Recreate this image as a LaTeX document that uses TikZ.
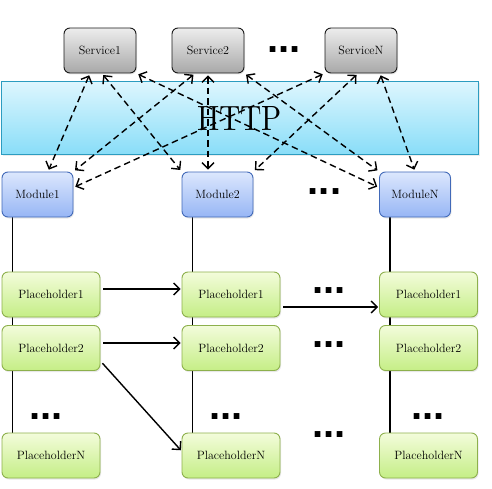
\documentclass[tikz,border=0pt]{standalone}
\usepackage{fontspec}
\newfontfamily\dotsfont{Liberation Sans}
\usetikzlibrary{arrows.meta,shadows,backgrounds}

\definecolor{servtop}{HTML}{EDEDED}
\definecolor{servbot}{HTML}{A8A8A8}
\definecolor{servline}{HTML}{1A1A1A}
\definecolor{modtop}{HTML}{DCE7FD}
\definecolor{modbot}{HTML}{97B6F5}
\definecolor{modline}{HTML}{4169B8}
\definecolor{holdtop}{HTML}{F3FCDB}
\definecolor{holdbot}{HTML}{C5EE86}
\definecolor{holdline}{HTML}{8DB04C}
\definecolor{bustop}{HTML}{DDF6FE}
\definecolor{busbot}{HTML}{88DDF8}
\definecolor{busline}{HTML}{2C9CC0}

\tikzset{
  box/.style={draw, rounded corners=6pt, line width=0.9pt, inner sep=0pt,
    font=\fontsize{12}{14}\selectfont,
    drop shadow={opacity=0.18, shadow xshift=1pt, shadow yshift=-1.5pt}},
  service/.style={box, draw=servline, top color=servtop, bottom color=servbot,
    minimum width=72pt, minimum height=45pt},
  module/.style={box, draw=modline, top color=modtop, bottom color=modbot,
    minimum width=71pt, minimum height=45pt},
  holder/.style={box, draw=holdline, top color=holdtop, bottom color=holdbot,
    minimum width=98pt, minimum height=45pt},
  bus/.style={draw=busline, line width=1pt, top color=bustop, bottom color=busbot,
    minimum width=477pt, minimum height=73pt, inner sep=0pt,
    drop shadow={opacity=0.15, shadow xshift=1.5pt, shadow yshift=-1.5pt}},
  dots/.style={font=\dotsfont\bfseries\fontsize{40}{40}\selectfont, inner sep=0pt, anchor=base},
  call/.style={<->, dash pattern=on 6.5pt off 4pt, line width=1.4pt, shorten <=2pt, shorten >=2pt},
  pass/.style={->, line width=1.4pt, shorten <=3pt, shorten >=1pt},
  wire/.style={line width=1.5pt}
}

\begin{document}
\begin{tikzpicture}[x=1pt, y=-1pt, >={Straight Barb[length=6pt,width=12pt]}]
\useasboundingbox (0,0) rectangle (492,489);

% http
\node (http)[bus] at (239.5,118.5) {\resizebox{85pt}{24pt}{HTTP}};

% services
\foreach \c/\x in {1/100,2/208,N/361}
  \node (s\c)[service] at (\x,50.5) {Service\c};
\node (sdots)[dots] at (284,52.3) {...};

% modules
\foreach \c/\x in {1/37.5,2/217.5,N/415}
  \node (m\c)[module] at (\x,194.5) {Module\c};
\node (mdots)[dots] at (324.5,194.3) {...};

% placeholders
\foreach \c/\x in {1/51,2/231,N/428.5}
  \foreach \r/\y in {1/294.5,2/348,N/455.5}
    \node (c\c p\r)[holder] at (\x,\y) {Placeholder\r};
\node (d1)[dots] at (329,293.3) {...};
\node (d2)[dots] at (329,347.3) {...};
\node (dN)[dots] at (329,437.3) {...};
\node (v1)[dots] at (46,419.3) {...};
\node (v2)[dots] at (226,419.3) {...};
\node (vN)[dots] at (428,419.3) {...};

% columns
\begin{pgfonlayer}{background}
\foreach \c in {1,2,N}
  \draw[wire] ([xshift=11pt]m\c.south west) -- ([xshift=11pt]c\c pN.north west);
\end{pgfonlayer}

% calls over http
\draw[call] ([xshift=-10pt]s1.south) -- ([xshift=10.5pt]m1.north);
\draw[call] ([xshift=2pt]s1.south) -- (m2.north west);
\draw[call] (s1.south east) -- ([yshift=7pt]mN.west);
\draw[call] ([xshift=-13pt]s2.south) -- (m1.north east);
\draw[call] (s2.south) -- (s2.south |- m2.north);
\draw[call] (s2.south east) -- (mN.north west);
\draw[call] (sN.south west) -- ([yshift=7pt]m1.east);
\draw[call] ([xshift=-3pt]sN.south) -- (m2.north east);
\draw[call] ([xshift=19pt]sN.south) -- (mN.north);

% passing along
\draw[pass] ([yshift=5.5pt]c1p1.east) -- ([yshift=5.5pt]c2p1.west);
\draw[pass] ([yshift=-12.5pt]c2p1.east) -- ([yshift=-12.5pt]cNp1.west);
\draw[pass] ([yshift=5pt]c1p2.east) -- ([yshift=5pt]c2p2.west);
\draw[pass] ([yshift=-13pt]c1p2.east) -- ([yshift=4.5pt]c2pN.west);

\end{tikzpicture}
\end{document}
